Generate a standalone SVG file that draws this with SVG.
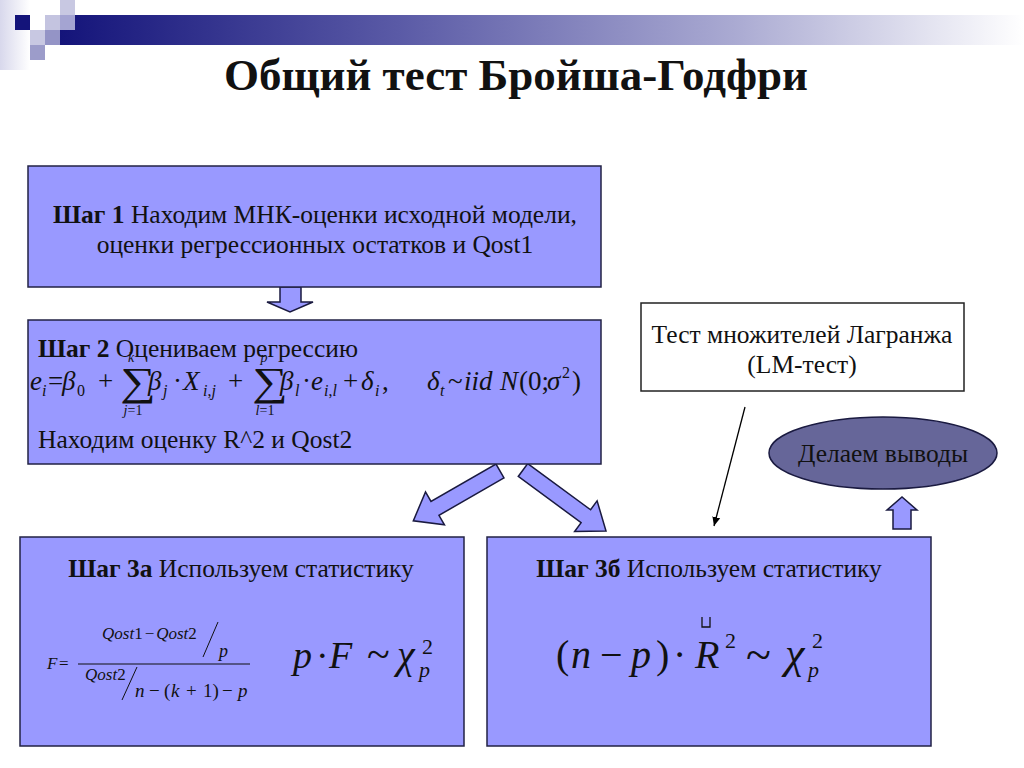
<svg xmlns="http://www.w3.org/2000/svg" width="1024" height="768" viewBox="0 0 1024 768">
<defs>
<linearGradient id="bar" x1="0" y1="0" x2="1" y2="0">
<stop offset="0" stop-color="#14147a"/>
<stop offset="0.35" stop-color="#5a5aa6"/>
<stop offset="0.7" stop-color="#aaaad2"/>
<stop offset="1" stop-color="#ffffff"/>
</linearGradient>
<linearGradient id="col" x1="0" y1="0" x2="1" y2="0">
<stop offset="0" stop-color="#d8d8ec"/>
<stop offset="1" stop-color="#ffffff"/>
</linearGradient>
<marker id="ah" markerWidth="10" markerHeight="10" refX="9" refY="5" orient="auto" markerUnits="userSpaceOnUse">
<path d="M0,1 L9,5 L0,9 Z" fill="#000"/>
</marker>
<style>
.box{fill:#9999ff;stroke:#222244;stroke-width:1.5}
.wbox{fill:#ffffff;stroke:#222;stroke-width:1.5}
.blk{fill:#9999ff;stroke:#1a1a40;stroke-width:1.5;stroke-linejoin:miter}
.t{font-family:"Liberation Serif","Times New Roman",serif;fill:#111}
.b{font-weight:bold}
.m{font-family:"Liberation Serif","Times New Roman",serif;font-style:italic;fill:#111}
.g{font-family:"Liberation Serif","Times New Roman",serif;fill:#111}
.eq text{font-size:27px}
.eq .s{font-size:16px}
.eq .l{font-size:14px}
.eq .S{font-size:40px}
</style>
</defs>
<rect width="1024" height="768" fill="#ffffff"/>
<g id="decor">
<rect x="0" y="0" width="30" height="70" fill="url(#col)"/>
<rect x="60" y="15" width="964" height="30" fill="url(#bar)"/>
<rect x="15" y="15" width="15" height="15" fill="#14147a"/>
<rect x="45" y="15" width="15" height="15" fill="#c4c4e0"/>
<rect x="60" y="0" width="15" height="15" fill="#c8c8e2"/>
<rect x="60" y="15" width="15" height="15" fill="#a4a4d2"/>
<rect x="30" y="30" width="15" height="15" fill="#c8c8e2"/>
<rect x="45" y="30" width="15" height="15" fill="#9494c6"/>
<rect x="30" y="45" width="15" height="15" fill="#9c9cca"/>
</g>
<text class="t b" x="516" y="90" font-size="45" text-anchor="middle">Общий тест Бройша-Годфри</text>

<g id="connectors">
<polygon class="blk" points="280,287 301,287 301,302 313,302 290,312 267,302 280,302"/>
<g transform="translate(500,471) rotate(150.1)">
<polygon class="blk" points="0,-8 75,-8 75,-19 100,0 75,19 75,8 0,8"/>
</g>
<g transform="translate(523,470) rotate(36.3)">
<polygon class="blk" points="0,-8 78,-8 78,-19 103,0 78,19 78,8 0,8"/>
</g>
<line x1="745" y1="407" x2="714" y2="526" stroke="#000" stroke-width="1.3" marker-end="url(#ah)"/>
<polygon class="blk" points="893,529 911,529 911,510 917,510 902,497 887,510 893,510"/>
</g>

<g id="step1">
<rect class="box" x="28" y="166" width="573" height="121"/>
<text class="t" x="315" y="223" font-size="25.5" text-anchor="middle"><tspan font-weight="bold">Шаг 1</tspan> Находим МНК-оценки исходной модели,</text>
<text class="t" x="315" y="253" font-size="25.5" text-anchor="middle">оценки регрессионных остатков и Qost1</text>
</g>

<g id="step2">
<rect class="box" x="28" y="320" width="573" height="144"/>
<text class="t" x="38" y="357" font-size="25.5"><tspan font-weight="bold">Шаг 2</tspan> Оцениваем регрессию</text>
<g class="eq">
<text class="m" x="30" y="390">e</text><text class="m s" x="42" y="396">i</text>
<text class="g" x="48" y="390">=</text>
<text class="m" x="62" y="390">β</text><text class="g s" x="77" y="396">0</text>
<text class="g" x="98" y="390">+</text>
<text class="g S" transform="translate(120,395) scale(1.25,1)">∑</text>
<text class="m l" x="131" y="362" text-anchor="middle">k</text>
<text class="m l" x="133" y="415" text-anchor="middle">j<tspan class="g" font-style="normal">=1</tspan></text>
<text class="m" x="148" y="390">β</text><text class="m s" x="163" y="396">j</text>
<text class="g" x="173" y="390">·</text>
<text class="m" x="183" y="390">X</text><text class="m s" x="203" y="396">i<tspan class="g" font-style="normal">,</tspan>j</text>
<text class="g" x="228" y="390">+</text>
<text class="g S" transform="translate(252,395) scale(1.25,1)">∑</text>
<text class="m l" x="264" y="362" text-anchor="middle">p</text>
<text class="m l" x="265" y="415" text-anchor="middle">l<tspan class="g" font-style="normal">=1</tspan></text>
<text class="m" x="280" y="390">β</text><text class="m s" x="295" y="396">l</text>
<text class="g" x="302" y="390">·</text>
<text class="m" x="311" y="390">e</text><text class="m s" x="324" y="396">i<tspan class="g" font-style="normal">,</tspan>l</text>
<text class="g" x="343" y="390">+</text>
<text class="m" x="361" y="390">δ</text><text class="m s" x="375" y="396">i</text>
<text class="g" x="382" y="390">,</text>
<text class="m" x="427" y="390">δ</text><text class="m s" x="440" y="396">t</text>
<text class="g" x="448" y="390">~</text>
<text class="m" x="464" y="390">iid</text>
<text class="m" x="500" y="390">N</text>
<text class="g" x="519" y="390">(0;</text>
<text class="m" x="547" y="390">σ</text>
<text class="g s" x="562" y="378">2</text>
<text class="g" x="572" y="390">)</text>
</g>
<text class="t" x="38" y="448" font-size="25.5">Находим оценку R^2 и Qost2</text>
</g>

<g id="lm">
<rect class="wbox" x="641" y="303" width="323" height="88"/>
<text class="t" x="802" y="343" font-size="25.5" text-anchor="middle">Тест множителей Лагранжа</text>
<text class="t" x="802" y="373" font-size="25.5" text-anchor="middle">(LM-тест)</text>
</g>

<g id="conclusions">
<ellipse cx="883" cy="453" rx="114" ry="36" fill="#666699" stroke="#1a1a40" stroke-width="1.5"/>
<text class="t" x="883" y="462" font-size="25.5" text-anchor="middle">Делаем выводы</text>
</g>

<g id="step3a">
<rect class="box" x="20" y="537" width="444" height="209"/>
<text class="t" x="241" y="577" font-size="25.5" text-anchor="middle"><tspan font-weight="bold">Шаг 3а</tspan> Используем статистику</text>
<text class="m" x="47" y="669" font-size="17">F</text>
<text class="g" x="59" y="669" font-size="17">=</text>
<line x1="78" y1="664" x2="250" y2="664" stroke="#111" stroke-width="1.2"/>
<text class="m" x="102" y="639" font-size="17">Qost<tspan class="g" font-style="normal">1</tspan><tspan class="g" font-style="normal" dx="2">−</tspan><tspan dx="2">Qost</tspan><tspan class="g" font-style="normal">2</tspan></text>
<line x1="203" y1="657" x2="218" y2="622" stroke="#111" stroke-width="1"/>
<text class="m" x="219" y="657" font-size="18">p</text>
<text class="m" x="85" y="680" font-size="17">Qost<tspan class="g" font-style="normal">2</tspan></text>
<line x1="122" y1="700" x2="137" y2="667" stroke="#111" stroke-width="1"/>
<text class="m" x="135" y="697" font-size="19">n<tspan class="g" font-style="normal" x="149">−</tspan><tspan class="g" font-style="normal" x="164">(</tspan><tspan x="171">k</tspan><tspan class="g" font-style="normal" x="186">+</tspan><tspan class="g" font-style="normal" x="203">1)</tspan><tspan class="g" font-style="normal" x="222">−</tspan><tspan x="238">p</tspan></text>
<text class="m" x="293" y="668" font-size="38">p</text>
<text class="g" x="316" y="668" font-size="38">·</text>
<text class="m" x="329" y="668" font-size="38">F</text>
<text class="g" x="367" y="668" font-size="42">~</text>
<text class="m" x="397" y="668" font-size="40">χ</text>
<text class="g" x="422" y="654" font-size="22">2</text>
<text class="m" x="419" y="677" font-size="22">p</text>
</g>

<g id="step3b">
<rect class="box" x="487" y="537" width="444" height="209"/>
<text class="t" x="709" y="577" font-size="25.5" text-anchor="middle"><tspan font-weight="bold">Шаг 3б</tspan> Используем статистику</text>
<text class="g" x="556" y="668" font-size="40">(</text>
<text class="m" x="571" y="668" font-size="40">n</text>
<text class="g" x="600" y="668" font-size="40">−</text>
<text class="m" x="631" y="668" font-size="40">p</text>
<text class="g" x="656" y="668" font-size="40">)</text>
<text class="g" x="673" y="668" font-size="40">·</text>
<text class="m" x="695" y="668" font-size="40">R</text>
<polyline points="702,617 702,627 710,627 710,617" fill="none" stroke="#111" stroke-width="1.3"/>
<text class="g" x="725" y="648" font-size="22">2</text>
<text class="g" x="746" y="670" font-size="46">~</text>
<text class="m" x="785" y="668" font-size="44">χ</text>
<text class="g" x="812" y="648" font-size="22">2</text>
<text class="m" x="808" y="677" font-size="22">p</text>
</g>
</svg>
